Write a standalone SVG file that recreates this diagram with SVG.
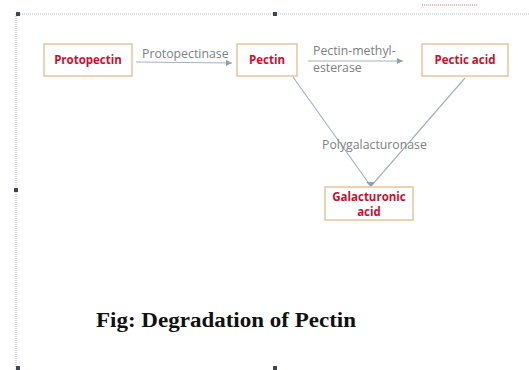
<svg xmlns="http://www.w3.org/2000/svg" width="529" height="370" viewBox="0 0 529 370">
<style>
.box{fill:#fff;stroke:#e9c39b;stroke-width:1.5}
.lbl{font-family:"Open Sans","Liberation Sans",sans-serif;font-weight:bold;font-size:11.5px;fill:#c8102e;text-anchor:middle}
.enz{font-family:"Open Sans","Liberation Sans",sans-serif;font-size:12.3px;fill:#808080}
.conn{stroke:#a6b2c2;stroke-width:1.2;fill:none}
.frame{stroke:#b8c0cc;stroke-width:1;stroke-dasharray:1 1;fill:none}
.handle{fill:#3c4656}
</style>
<defs>
<marker id="ah" markerWidth="8" markerHeight="8" refX="6" refY="3" orient="auto" markerUnits="userSpaceOnUse">
<path d="M0,0 L6,3 L0,6 Z" fill="#8ea0b8"/>
</marker>
</defs>
<rect width="529" height="370" fill="#fff"/>
<g id="frame">
<path class="frame" d="M16,14 H529 M16,14 V370"/>
<path d="M422,5 H477" stroke="#e6a0a8" stroke-width="1.5" stroke-dasharray="1 1"/>
<rect class="handle" x="16" y="12" width="4" height="4"/>
<rect class="handle" x="273" y="12" width="4" height="4"/>
<rect class="handle" x="14" y="188" width="4" height="4"/>
<rect class="handle" x="16" y="366" width="4" height="4"/>
<rect class="handle" x="273" y="366" width="4" height="4"/>
</g>
<g id="connectors">
<line class="conn" x1="136" y1="62" x2="232" y2="63" marker-end="url(#ah)"/>
<line class="conn" x1="308" y1="61" x2="403" y2="61" marker-end="url(#ah)"/>
<line class="conn" x1="293" y1="77" x2="370" y2="185"/>
<line class="conn" x1="465" y1="78" x2="372" y2="185"/>
<path d="M366,182 L371,187 L375,182 Z" fill="#8ea0b8"/>
<text class="enz" x="142" y="58">Protopectinase</text>
<text class="enz" x="313" y="55">Pectin-methyl-</text>
<text class="enz" x="313" y="72">esterase</text>
<text class="enz" x="322" y="149">Polygalacturonase</text>
</g>
<g id="protopectin">
<rect class="box" x="44" y="44" width="88" height="32"/>
<text class="lbl" x="88" y="64">Protopectin</text>
</g>
<g id="pectin">
<rect class="box" x="237" y="44" width="60" height="32"/>
<text class="lbl" x="267" y="64">Pectin</text>
</g>
<g id="pectic-acid">
<rect class="box" x="422" y="44" width="86" height="32"/>
<text class="lbl" x="465" y="64">Pectic acid</text>
</g>
<g id="galacturonic-acid">
<rect class="box" x="325" y="187" width="88" height="33"/>
<text class="lbl" x="369" y="201">Galacturonic</text>
<text class="lbl" x="369" y="216">acid</text>
</g>
<text x="96" y="327" font-family="'Liberation Serif','Times New Roman',serif" font-weight="bold" font-size="20px" textLength="260" lengthAdjust="spacingAndGlyphs" fill="#111">Fig: Degradation of Pectin</text>
</svg>
